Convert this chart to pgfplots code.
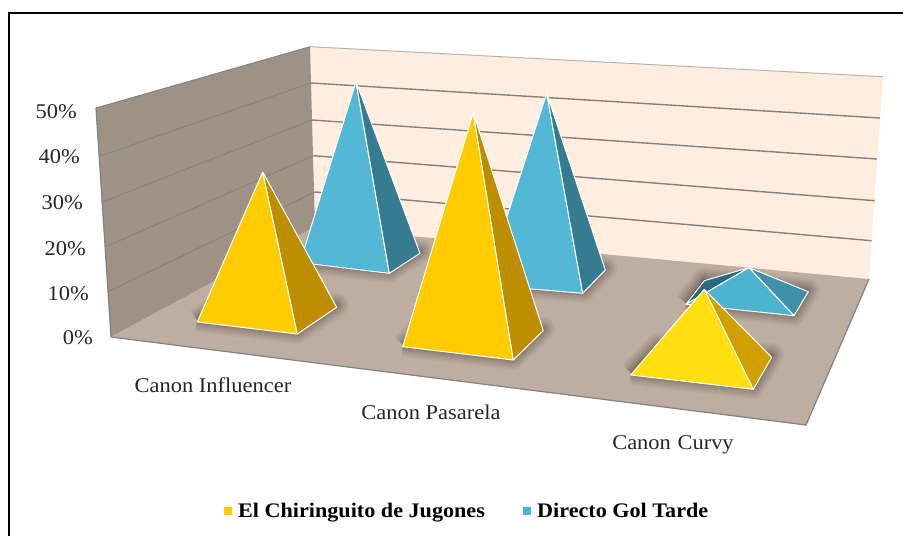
\documentclass[border=0pt]{standalone}
\usepackage{fontspec}
\setmainfont[FakeStretch=1.07]{Liberation Serif}
\usepackage{pgfplots}
\pgfplotsset{compat=1.18}
\definecolor{wallL}{HTML}{9E9186}
\definecolor{wallB}{HTML}{FFEEE0}
\definecolor{floorc}{HTML}{BDAEA1}
\definecolor{edge}{HTML}{85807C}
\definecolor{edgeL}{HTML}{7E8383}
\definecolor{yel}{HTML}{FFCC00}
\definecolor{yeld}{HTML}{BC8E00}
\definecolor{yelb}{HTML}{FFDF0F}
\definecolor{yelbd}{HTML}{D0A000}
\definecolor{blu}{HTML}{52B8D6}
\definecolor{blud}{HTML}{367C90}
\definecolor{blub}{HTML}{4CB4D0}
\definecolor{blubd}{HTML}{3F90A8}
\definecolor{bluk}{HTML}{2A6A80}
\definecolor{shade}{HTML}{3A2F28}
% faces and shadows, all in reference pixels
\newcommand{\face}[2]{\addplot[fill=#1,draw=white,line width=1pt,line join=round] coordinates {#2};}
\newcommand{\shadow}[1]{%
  \addplot[fill=shade,draw=shade,opacity=0.05,line width=24pt,line join=round] coordinates {#1};
  \addplot[fill=shade,draw=shade,opacity=0.06,line width=20pt,line join=round] coordinates {#1};
  \addplot[fill=shade,draw=shade,opacity=0.08,line width=16pt,line join=round] coordinates {#1};
  \addplot[fill=shade,draw=shade,opacity=0.09,line width=12pt,line join=round] coordinates {#1};
  \addplot[fill=shade,draw=shade,opacity=0.11,line width=8pt,line join=round] coordinates {#1};
  \addplot[fill=shade,draw=shade,opacity=0.14,line width=4pt,line join=round] coordinates {#1};
}
\newcommand{\tick}[3]{\node[anchor=base east,font=\fontsize{21}{23}\selectfont,text=black!85,inner sep=0pt] at (axis cs:#1,#2) {#3};}
\newcommand{\cat}[3]{\node[anchor=base,font=\fontsize{21}{23}\selectfont,text=black!85,inner sep=0pt] at (axis cs:#1,#2) {#3};}
\begin{document}
\begin{tikzpicture}
\begin{axis}[
  scale only axis, width=903pt, height=536pt,
  xmin=0, xmax=903, ymin=0, ymax=536, y dir=reverse,
  hide axis, no markers,
]
\addplot[fill=white,draw=none] coordinates {(0,0) (903,0) (903,536) (0,536) (0,0)};
% outer frame
\addplot[black,line width=2pt] coordinates {(9,536) (9,13) (903,13)};
% walls and floor
\addplot[fill=wallB,draw=none] coordinates {(310,46.7) (883,76.7) (869,279) (315,227) (310,46.7)};
\addplot[fill=wallL,draw=none] coordinates {(96,108) (310,46.7) (315,227) (111,337) (96,108)};
\addplot[fill=floorc,draw=none] coordinates {(111,337) (315,227) (869,279) (806,425) (111,337)};
% gridlines, left wall
\addplot[edgeL,line width=0.9pt] coordinates {(96,108) (310,46.7)};
\addplot[edgeL,line width=0.9pt] coordinates {(101,155.7) (311,83)};
\addplot[edgeL,line width=0.9pt] coordinates {(103,201.7) (312,120)};
\addplot[edgeL,line width=0.9pt] coordinates {(105,247) (313.5,155.7)};
\addplot[edgeL,line width=0.9pt] coordinates {(108,291.7) (315,192)};
% gridlines, back wall
\addplot[edge!60,line width=1pt] coordinates {(310,46.7) (883,76.7)};
\addplot[edge,line width=1.4pt] coordinates {(311,83) (880,118)};
\addplot[edge,line width=1.4pt] coordinates {(312,120) (877,159)};
\addplot[edge,line width=1.4pt] coordinates {(313.5,155.7) (874.6,200.7)};
\addplot[edge,line width=1.4pt] coordinates {(315,192) (871.7,240.7)};
% frame of the box
\addplot[edgeL,line width=1.2pt] coordinates {(96,108) (111,337) (806,425) (869,279)};
% Canon Influencer
\shadow{(300,261) (389,271) (420,251) (331,241) (300,261)}
\face{blu}{(356,81.7) (300,262.6) (389.3,273.3) (356,81.7)}
\face{blud}{(356,81.7) (389.3,273.3) (420,253.3) (356,81.7)}
\shadow{(197,320) (297,332) (337,305) (237,293) (197,320)}
\face{yel}{(262.7,172) (197.3,322) (297.3,334) (262.7,172)}
\face{yeld}{(262.7,172) (297.3,334) (336.7,307.3) (262.7,172)}
% Canon Pasarela
\shadow{(485,283) (583,291) (605,268) (507,260) (485,283)}
\face{blu}{(546.7,93.3) (485,285) (582.7,293.3) (546.7,93.3)}
\face{blud}{(546.7,93.3) (582.7,293.3) (605.3,270) (546.7,93.3)}
\shadow{(403,345) (513,358) (543,329) (433,316) (403,345)}
\face{yel}{(473.3,112.7) (402.7,346.7) (513.3,360) (473.3,112.7)}
\face{yeld}{(473.3,112.7) (513.3,360) (543.3,330.7) (473.3,112.7)}
% Canon Curvy
\shadow{(686,303) (794,314) (808,290) (704,279) (686,303)}
\face{bluk}{(749,267.7) (704.3,280.7) (686,304.3) (749,267.7)}
\face{blubd}{(749,267.7) (794,315.7) (808.3,291.7) (749,267.7)}
\face{blub}{(749,267.7) (686,304.3) (794,315.7) (749,267.7)}
\shadow{(631,373) (753,387) (772,355) (658,345) (631,373)}
\face{yelb}{(704.3,289.3) (630.7,375) (753.3,389.3) (704.3,289.3)}
\face{yelbd}{(704.3,289.3) (753.3,389.3) (771.7,357.3) (704.3,289.3)}
% value axis labels
\tick{77}{118}{50\%}
\tick{80}{163}{40\%}
\tick{83}{209}{30\%}
\tick{86}{255}{20\%}
\tick{89}{300}{10\%}
\tick{93}{344}{0\%}
% categories
\cat{213}{392}{Canon Influencer}
\cat{431}{419}{Canon Pasarela}
\cat{673}{449}{Canon\ \kern1pt Curvy}
% legend
\addplot[fill=yel,draw=white,line width=0.5pt] coordinates {(223,506) (232,506) (232,515) (223,515) (223,506)};
\addplot[fill=blub,draw=white,line width=0.5pt] coordinates {(522,506) (531,506) (531,515) (522,515) (522,506)};
\node[anchor=base west,font=\fontsize{20.7}{23}\selectfont\bfseries,inner sep=0pt] at (axis cs:238,517) {El Chiringuito de Jugones};
\node[anchor=base west,font=\fontsize{20.7}{23}\selectfont\bfseries,inner sep=0pt] at (axis cs:537,517) {Directo Gol Tarde};
\end{axis}
\end{tikzpicture}
\end{document}
